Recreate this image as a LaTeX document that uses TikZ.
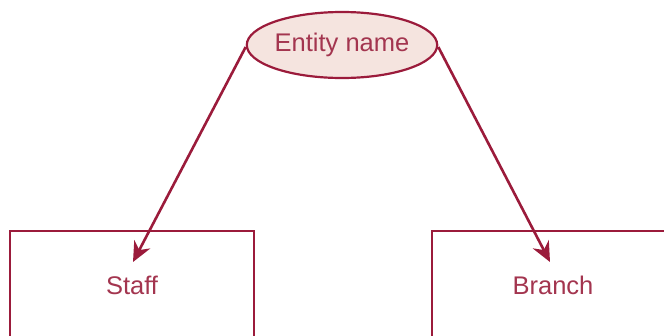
\documentclass[tikz,border=0pt]{standalone}
\usepackage{fontspec}
\setmainfont{Liberation Sans}
\usetikzlibrary{shapes.geometric,arrows.meta}
\definecolor{erline}{HTML}{9B1B3B}
\definecolor{ertext}{HTML}{A3354F}
\definecolor{erfill}{HTML}{F5E4DF}
\tikzset{
  attr/.style={ellipse,draw=erline,line width=2.2pt,fill=erfill,minimum width=186pt,minimum height=66pt,inner sep=0pt,text=ertext,font=\fontsize{25.5}{30}\selectfont},
  entbox/.style={draw=erline,line width=2.2pt,rectangle,inner sep=0pt},
  lbl/.style={text=ertext,font=\fontsize{25.5}{30}\selectfont,inner sep=0pt},
  conn/.style={draw=erline,line width=2.6pt,-{Stealth[length=20pt,width=18pt]}}
}
\begin{document}
\begin{tikzpicture}[x=1pt,y=-1pt]
\useasboundingbox (0,0) rectangle (664,335);
\clip (0,0) rectangle (664,335);
\node[entbox,minimum width=244pt,minimum height=200pt,anchor=north west] (s) at (9,230) {};
\node[entbox,minimum width=260pt,minimum height=200pt,anchor=north west] (b) at (431,230) {};
\node[lbl] (sl) at (132,285) {Staff};
\node[lbl] (bl) at (553,285) {Branch};
\node[attr] (e) at (342,45) {Entity name};
\coordinate (ts) at (133,262);
\coordinate (tb) at (550,262);
\draw[conn] ([yshift=-2pt]e.west) -- (ts);
\draw[conn] ([yshift=-2pt]e.east) -- (tb);
\end{tikzpicture}
\end{document}
